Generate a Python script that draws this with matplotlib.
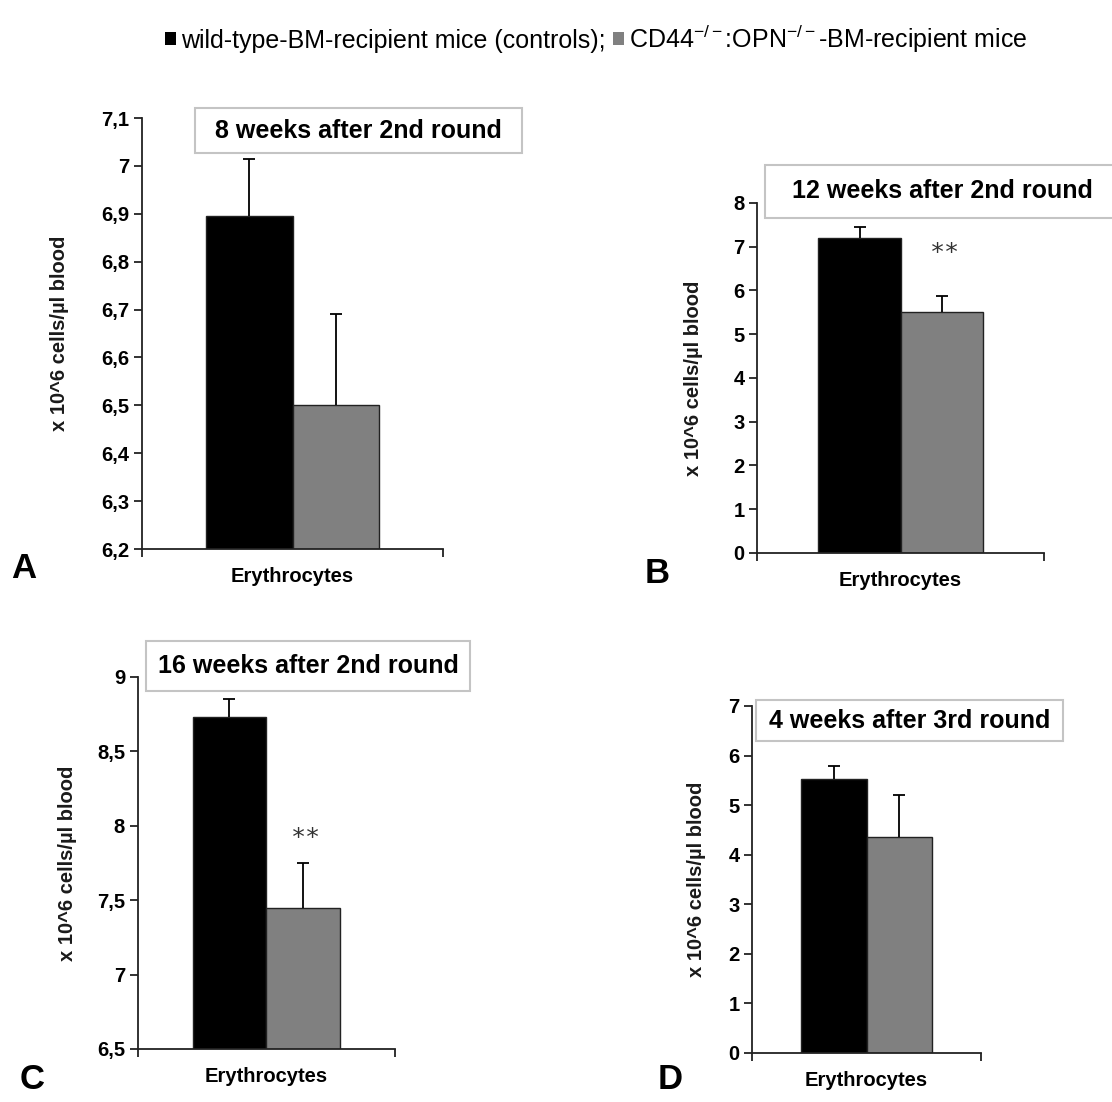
import numpy as np
import matplotlib
matplotlib.use('Agg')
import matplotlib.pyplot as plt
from matplotlib.patches import Rectangle, Patch

plt.rcParams['font.family'] = ['Liberation Sans', 'DejaVu Sans']
plt.rcParams['mathtext.fontset'] = 'custom'
plt.rcParams['mathtext.rm'] = 'Liberation Sans'
plt.rcParams['mathtext.it'] = 'Liberation Sans:italic'
plt.rcParams['mathtext.bf'] = 'Liberation Sans:bold'

# data
groups = ['wild-type-BM-recipient mice (controls);',
          'CD44$^{-/-}$:OPN$^{-/-}$-BM-recipient mice']
bar_colors = ['black', '#808080']
category = 'Erythrocytes'
ylabel = 'x 10^6 cells/µl blood'

titles = ['8 weeks after 2nd round', '12 weeks after 2nd round',
          '16 weeks after 2nd round', '4 weeks after 3rd round']
letters = ['A', 'B', 'C', 'D']

means_a = [6.895, 6.50]
errs_a = [0.12, 0.19]
means_b = [7.21, 5.50]
errs_b = [0.23, 0.37]
means_c = [8.73, 7.45]
errs_c = [0.12, 0.30]
means_d = [5.52, 4.36]
errs_d = [0.26, 0.84]

ticks_a = [6.2, 6.3, 6.4, 6.5, 6.6, 6.7, 6.8, 6.9, 7.0, 7.1]
ticklabels_a = ['6,2', '6,3', '6,4', '6,5', '6,6', '6,7', '6,8', '6,9', '7', '7,1']
ticks_b = [0, 1, 2, 3, 4, 5, 6, 7, 8]
ticks_c = [6.5, 7.0, 7.5, 8.0, 8.5, 9.0]
ticklabels_c = ['6,5', '7', '7,5', '8', '8,5', '9']
ticks_d = [0, 1, 2, 3, 4, 5, 6, 7]

stars_b = (6.86, '**')
stars_c = (7.92, '**')

fig = plt.figure(figsize=(11.12, 11.02), dpi=100)

# axes placement, title box (x0, x1, y0, y1 in axes fraction), letter position
panels = [
    dict(pos=[0.1277, 0.5018, 0.2707, 0.3911], means=means_a, errs=errs_a,
         ticks=ticks_a, labels=ticklabels_a, box=(0.176, 1.262, 0.919, 1.023),
         letter=(0.010, 0.469), stars=None, ylx=-0.244),
    dict(pos=[0.6808, 0.4982, 0.2581, 0.3176], means=means_b, errs=errs_b,
         ticks=ticks_b, labels=[str(t) for t in ticks_b], box=(0.028, 1.30, 0.957, 1.109),
         letter=(0.580, 0.465), stars=stars_b, ylx=-0.19),
    dict(pos=[0.1237, 0.0481, 0.2316, 0.3376], means=means_c, errs=errs_c,
         ticks=ticks_c, labels=ticklabels_c, box=(0.033, 1.291, 0.962, 1.097),
         letter=(0.018, 0.005), stars=stars_c, ylx=-0.235),
    dict(pos=[0.6763, 0.0445, 0.2059, 0.3149], means=means_d, errs=errs_d,
         ticks=ticks_d, labels=[str(t) for t in ticks_d], box=(0.017, 1.358, 0.899, 1.017),
         letter=(0.591, 0.005), stars=None, ylx=-0.20),
]

x = np.array([0.357, 0.643])
width = 0.286

for i, p in enumerate(panels):
    ax = fig.add_axes(p['pos'])
    means = np.array(p['means'])
    errs = np.array(p['errs'])
    ax.bar(x, means, width=width, color=bar_colors,
           edgecolor='#222222', linewidth=1.0, zorder=2)
    # upper error only, cap at the top
    ax.vlines(x, means, means + errs, color='black', linewidth=1.3, zorder=3)
    ax.plot(x, means + errs, ls='none', marker='_', markersize=9,
            markeredgewidth=1.3, color='black', zorder=3)
    ax.set_xlim(0, 1)
    ax.set_ylim(p['ticks'][0], p['ticks'][-1])
    ax.set_yticks(p['ticks'])
    ax.set_yticklabels(p['labels'], fontsize=14.5, fontweight='bold')
    ax.set_xticks([0, 1])
    ax.set_xticklabels(['', ''])
    ax.tick_params(direction='out', length=6, width=1.3, color='#222222', pad=3)
    for s in ['top', 'right']:
        ax.spines[s].set_visible(False)
    for s in ['left', 'bottom']:
        ax.spines[s].set_linewidth(1.3)
        ax.spines[s].set_color('#222222')
    ax.set_xlabel(category, fontsize=14.5, fontweight='bold', labelpad=4)
    ax.set_ylabel(ylabel, fontsize=14.5, fontweight='bold', color='#1a1a1a')
    ax.yaxis.set_label_coords(p['ylx'], 0.5)

    x0, x1, y0, y1 = p['box']
    ax.add_patch(Rectangle((x0, y0), x1 - x0, y1 - y0, transform=ax.transAxes,
                           facecolor='white', edgecolor='#c4c4c4', linewidth=1.5,
                           clip_on=False, zorder=4))
    ax.text((x0 + x1) / 2 if i != 1 else 0.645, (y0 + y1) / 2, titles[i],
            transform=ax.transAxes, ha='center', va='center',
            fontsize=18, fontweight='bold', zorder=5)

    if p['stars'] is not None:
        ax.text(x[1] + 0.012, p['stars'][0], p['stars'][1], ha='center', va='center',
                fontsize=18, color='#333333', family='DejaVu Sans Mono')

    fig.text(p['letter'][0], p['letter'][1], letters[i], fontsize=25,
             fontweight='bold', ha='left', va='bottom')

handles = [Patch(facecolor=c, edgecolor='none') for c in bar_colors]
fig.legend(handles, groups, loc='upper center', bbox_to_anchor=(0.536, 1.0),
           ncol=2, frameon=False, fontsize=18, handlelength=0.45,
           handleheight=0.45, handletextpad=0.2, columnspacing=0.3)

fig.savefig('out.png', dpi=100)
